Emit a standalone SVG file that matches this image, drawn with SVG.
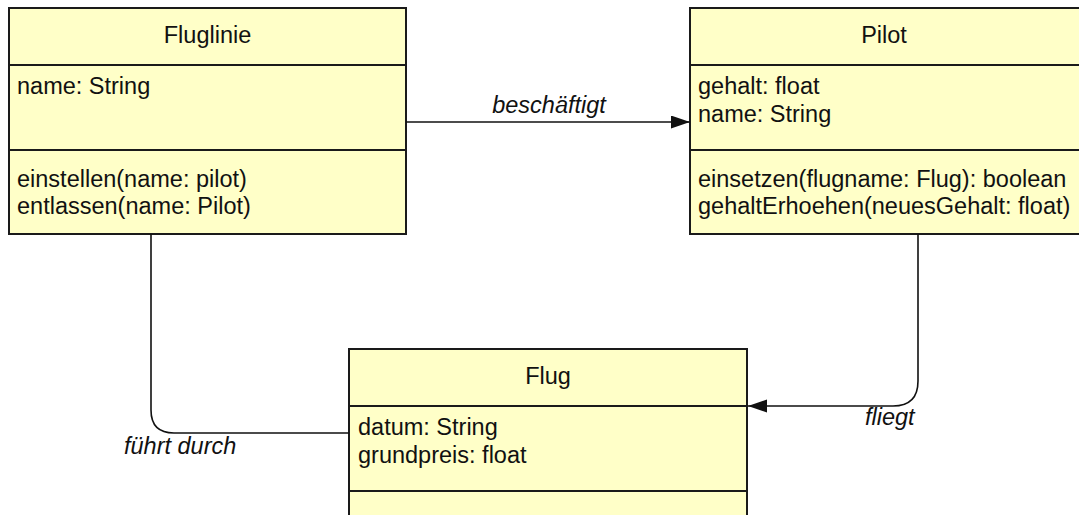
<svg xmlns="http://www.w3.org/2000/svg" width="1079" height="515" viewBox="0 0 1079 515">
<style>
.box{fill:#FFFFC8;stroke:#1a1a1a;stroke-width:2}
.sep{stroke:#1a1a1a;stroke-width:2}
.t{font-family:"Liberation Sans",Arial,sans-serif;font-size:23.5px;fill:#111}
.c{text-anchor:middle}
.i{font-style:italic}
.con{fill:none;stroke:#111;stroke-width:1.6}
</style>
<defs>
<marker id="arr" markerWidth="20" markerHeight="14" refX="19" refY="6.5" orient="auto" markerUnits="userSpaceOnUse">
<path d="M0,0 L19,6.5 L0,13 Z" fill="#111"/>
</marker>
</defs>
<g id="Fluglinie">
<rect class="box" x="9" y="8" width="397" height="226"/>
<line class="sep" x1="9" y1="65" x2="406" y2="65"/>
<line class="sep" x1="9" y1="150" x2="406" y2="150"/>
<text class="t c" x="207.5" y="43">Fluglinie</text>
<text class="t" x="17" y="94">name: String</text>
<text class="t" x="17" y="187">einstellen(name: pilot)</text>
<text class="t" x="17" y="214">entlassen(name: Pilot)</text>
</g>
<g id="Pilot">
<rect class="box" x="690" y="8" width="392" height="226"/>
<line class="sep" x1="690" y1="65" x2="1082" y2="65"/>
<line class="sep" x1="690" y1="150" x2="1082" y2="150"/>
<text class="t c" x="884" y="43">Pilot</text>
<text class="t" x="698" y="94">gehalt: float</text>
<text class="t" x="698" y="122">name: String</text>
<text class="t" x="698" y="187">einsetzen(flugname: Flug): boolean</text>
<text class="t" x="698" y="214">gehaltErhoehen(neuesGehalt: float)</text>
</g>
<g id="Flug">
<rect class="box" x="349" y="349" width="398" height="190"/>
<line class="sep" x1="349" y1="406" x2="747" y2="406"/>
<line class="sep" x1="349" y1="491" x2="747" y2="491"/>
<text class="t c" x="548" y="384">Flug</text>
<text class="t" x="358" y="435">datum: String</text>
<text class="t" x="358" y="463">grundpreis: float</text>
</g>
<g id="connectors">
<path class="con" d="M406,122 L690,122" marker-end="url(#arr)"/>
<text class="t c i" x="549" y="113">beschäftigt</text>
<path class="con" d="M151,234 L151,410 Q151,433 174,433 L349,433"/>
<text class="t i" x="124" y="454">führt durch</text>
<path class="con" d="M918,234 L918,381 Q918,406 893,406 L748,406" marker-end="url(#arr)"/>
<text class="t i" x="865" y="425">fliegt</text>
</g>
</svg>
